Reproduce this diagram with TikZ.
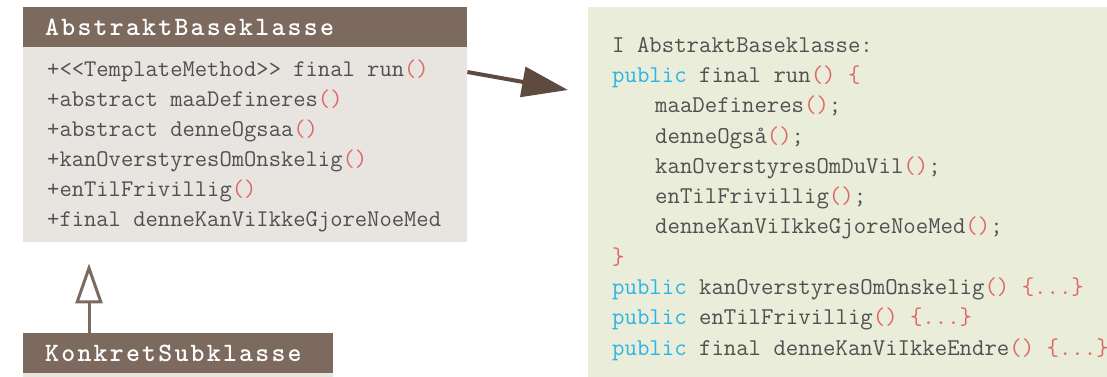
\documentclass[tikz,border=0pt]{standalone}
\usepackage{fontspec}
\newfontfamily\headfont[LetterSpace=8.5]{lmmonolt10-bold.otf}
\usetikzlibrary{arrows.meta,positioning}

\definecolor{umlbrown}{HTML}{7D6A5E}
\definecolor{umlbody}{HTML}{E8E4E0}
\definecolor{codebg}{HTML}{E9EDD9}
\definecolor{codegray}{HTML}{505050}
\definecolor{parred}{HTML}{E06666}
\definecolor{kwblue}{HTML}{2BB5E6}
\definecolor{arrowbrown}{HTML}{5E4A3F}

\newcommand{\pr}{\textcolor{parred}{()}}
\newcommand{\rd}[1]{\textcolor{parred}{#1}}
\newcommand{\kw}[1]{\textcolor{kwblue}{#1}}

\tikzset{
  classhead/.style={fill=umlbrown, text=white, anchor=north west, inner sep=0pt,
    minimum height=40pt, text width=#1, align=left,
    font=\headfont\fontsize{26.5pt}{28pt}\selectfont},
  classbody/.style={fill=umlbody, anchor=north west, inner sep=0pt},
  member/.style={anchor=base west, inner sep=0pt, text=codegray,
    font=\ttfamily\fontsize{23.9pt}{30pt}\selectfont},
  codeline/.style={anchor=base west, inner sep=0pt, text=codegray,
    font=\ttfamily\fontsize{24.1pt}{30pt}\selectfont},
}

\begin{document}
\begin{tikzpicture}[x=1pt, y=-1pt]
                \useasboundingbox (0,0) rectangle (1107,376);

                % --- CLASSES ---
                \node[classhead=400pt, inner xsep=22pt] (basehead) at (23,7) {AbstraktBaseklasse};
                \node[classbody, minimum width=444pt, minimum height=195pt] (base) at (23,47) {};
                \node[member] (m1) at (47,76) {+<{}<TemplateMethod>{}> final run\pr};
                \node[member] (m2) at (47,106) {+abstract maaDefineres\pr};
                \node[member] (m3) at (47,136) {+abstract denneOgsaa\pr};
                \node[member] (m4) at (47,166) {+kanOverstyresOmOnskelig\pr};
                \node[member] (m5) at (47,196) {+enTilFrivillig\pr};
                \node[member] (m6) at (47,226) {+final denneKanViIkkeGjoreNoeMed};

                \node[classbody, minimum width=310pt, minimum height=10pt] (subbody) at (23,373) {};
                \node[classhead=266pt, inner xsep=22pt] (sub) at (23,333) {KonkretSubklasse};

                % --- CODE PANEL ---
                \node[fill=codebg, anchor=north west, minimum width=540pt, minimum height=380pt, inner sep=0pt] (code) at (588,7) {};
                \node[codeline] (c1) at (612,52) {I AbstraktBaseklasse:};
                \node[codeline] (c2) at (612,82) {\kw{public} final run\pr{} \rd{\{}};
                \node[codeline] (c3) at (655,112) {maaDefineres\pr;};
                \node[codeline] (c4) at (655,143) {denneOgså\pr;};
                \node[codeline] (c5) at (655,173) {kanOverstyresOmDuVil\pr;};
                \node[codeline] (c6) at (655,203) {enTilFrivillig\pr;};
                \node[codeline] (c7) at (655,233) {denneKanViIkkeGjoreNoeMed\pr;};
                \node[codeline] (c8) at (612,264) {\rd{\}}};
                \node[codeline] (c9) at (612,294) {\kw{public} kanOverstyresOmOnskelig\pr{} \rd{\{...\}}};
                \node[codeline] (c10) at (612,324) {\kw{public} enTilFrivillig\pr{} \rd{\{...\}}};
                \node[codeline] (c11) at (612,355) {\kw{public} final denneKanViIkkeEndre\pr{} \rd{\{...\}}};

                % --- CONNECTORS ---
                \draw[arrowbrown, line width=4pt, -{Triangle[length=46pt, width=30pt]}]
                    ([yshift=-25pt]base.north east) -- ([xshift=-20pt, yshift=-83pt]code.north west);
                \draw[umlbrown, line width=3pt, -{Triangle[open, fill=white, length=40pt, width=27pt]}]
                    ([xshift=66pt]sub.north west) -- ([xshift=66pt, yshift=-21pt]base.south west);
            \end{tikzpicture}
\end{document}
